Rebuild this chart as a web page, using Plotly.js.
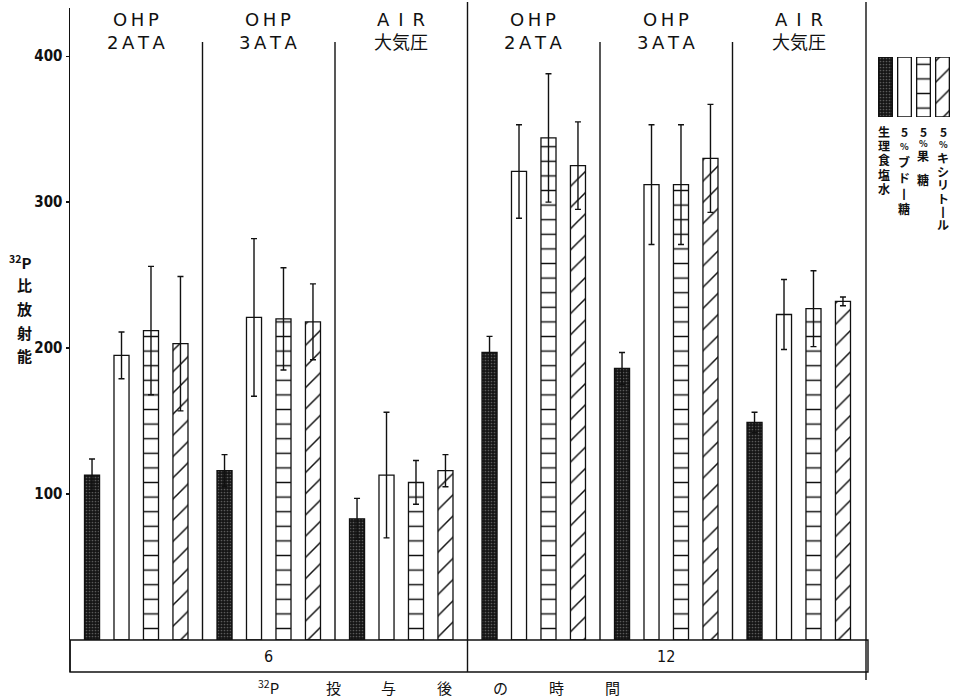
<!DOCTYPE html>
<html>
<head>
<meta charset="utf-8">
<script src="https://cdn.plot.ly/plotly-3.0.1.min.js"></script>
<style>
  html, body { margin: 0; padding: 0; background: #fff; }
  #chart { width: 955px; height: 699px; }
</style>
</head>
<body>
<div id="chart"></div>
<script>
// ---- data: 32P specific activity after administration ----
var groupIndex = [0, 1, 2, 3, 4, 5];
var conditions = ['O\u2009H\u2009P<br>2\u2009A\u2009T\u2009A', 'O\u2009H\u2009P<br>3\u2009A\u2009T\u2009A', 'A\u2002I\u2002R<br>大気圧',
                  'O\u2009H\u2009P<br>2\u2009A\u2009T\u2009A', 'O\u2009H\u2009P<br>3\u2009A\u2009T\u2009A', 'A\u2002I\u2002R<br>大気圧'];
var timeLabels = ['6', '12'];

var saline      = [113, 116, 83, 197, 186, 149];
var salineErr   = [11, 11, 14, 11, 11, 7];
var glucose     = [195, 221, 113, 321, 312, 223];
var glucoseErr  = [16, 54, 43, 32, 41, 24];
var fructose    = [212, 220, 108, 344, 312, 227];
var fructoseErr = [44, 35, 15, 44, 41, 26];
var xylitol     = [203, 218, 116, 325, 330, 232];
var xylitolErr  = [46, 26, 11, 30, 37, 3];

var yTicks = [100, 200, 300, 400];

var seriesNames = ['生理食塩水', '5%ブドー糖', '5%果 糖', '5%キシリトール'];
// vertical legend captions, one glyph per row
var legendCaptions = [
  ['生', '理', '食', '塩', '水'],
  ['5', '%', 'ブ', 'ド', '丨', '糖'],
  ['5', '%', '果', ' ', '糖'],
  ['5', '%', 'キ', 'シ', 'リ', 'ト', '丨', 'ル']
];
var legendSteps = [14.5, 15.5, 12, 13.4];

var yTitle = ['<sup>32</sup>P', '比', '放', '射', '能'];
var xTitle = ['<sup>32</sup>P', '投', '与', '後', 'の', '時', '間'];

// ---- geometry ----
var W = 955, H = 699;
var M = {l: 70, r: 2, t: 8, b: 59};
var plotW = W - M.l - M.r;          // 883
var plotH = H - M.t - M.b;          // 632
var mainW = 795;                     // width of the bar area
function px2x(px) { return (px - M.l) / plotW; }
function px2y(py) { return (H - M.b - py) / plotH; }

var black = '#111';
var styles = [
  {color: '#1b1b1b', pattern: {shape: '.', fgcolor: '#5a5a5a', bgcolor: '#151515', size: 3, solidity: 0.25}},
  {color: '#ffffff', pattern: {shape: ''}},
  {color: '#ffffff', pattern: {shape: '-', fgcolor: black, bgcolor: '#ffffff', size: 14.6, solidity: 0.1}},
  {color: '#ffffff', pattern: {shape: '/', fgcolor: black, bgcolor: '#ffffff', size: 15, solidity: 0.1}}
];
var values = [saline, glucose, fructose, xylitol];
var errors = [salineErr, glucoseErr, fructoseErr, xylitolErr];

var traces = [];
values.forEach(function (v, i) {
  traces.push({
    type: 'bar', x: groupIndex, y: v, name: seriesNames[i],
    marker: {color: styles[i].color, pattern: styles[i].pattern, line: {color: black, width: 1.3}},
    error_y: {type: 'data', array: errors[i], visible: true, color: black, thickness: 1.4, width: 3},
    hoverinfo: 'skip', showlegend: false, xaxis: 'x', yaxis: 'y'
  });
});
// legend swatches drawn as bars on a small side axis
values.forEach(function (v, i) {
  traces.push({
    type: 'bar', x: [i], y: [1], width: 0.72, offset: -0.36,
    marker: {color: styles[i].color, pattern: styles[i].pattern, line: {color: black, width: 1.3}},
    hoverinfo: 'skip', showlegend: false, xaxis: 'x2', yaxis: 'y2'
  });
});

var cjk = 'Noto Sans CJK JP';
function label(x, xref, py, text, font) {
  return {x: x, xref: xref, y: px2y(py), yref: 'paper', text: text, showarrow: false,
          xanchor: 'center', yanchor: 'middle', font: font};
}

var annotations = [];
// condition titles above each group
conditions.forEach(function (c, i) {
  annotations.push(label(groupIndex[i], 'x', 31, c, {family: 'DejaVu Sans, ' + cjk, size: 18, color: black}));
});
// time labels in the bottom band
var bandFont = {family: 'DejaVu Sans Condensed, DejaVu Sans', size: 16, color: black};
annotations.push(label(1, 'x', 656, timeLabels[0], bandFont));
annotations.push(label(4, 'x', 656, timeLabels[1], bandFont));
// x title
var xTitlePos = [268, 333, 388, 444, 500, 556, 612];
xTitle.forEach(function (t, i) {
  annotations.push(label(px2x(xTitlePos[i]), 'paper', 687, t, {family: cjk, size: 15, color: black}));
});
// y title, stacked vertically
var yTitlePos = [262, 284, 308, 332, 355];
yTitle.forEach(function (t, i) {
  annotations.push(label(px2x(i === 0 ? 20 : 24), 'paper', yTitlePos[i], t, {family: cjk, size: 15, color: black, weight: 'bold'}));
});
// legend captions
var legendX = [884, 904, 923, 943];
legendCaptions.forEach(function (chars, i) {
  chars.forEach(function (ch, k) {
    if (ch === ' ') return;
    annotations.push(label(px2x(legendX[i]), 'paper', 131 + k * legendSteps[i], ch,
      {family: cjk, size: (ch === '%' ? 9 : 12), color: black, weight: 'bold'}));
  });
});

var lineStyle = {color: black, width: 1.4};
var shapes = [
  // bottom band with time labels
  {type: 'rect', xref: 'paper', yref: 'paper', x0: 0, x1: px2x(868), y0: px2y(672), y1: 0, line: lineStyle},
  // left axis extension into the band
  {type: 'line', xref: 'paper', yref: 'paper', x0: 0, x1: 0, y0: px2y(672), y1: 0, line: lineStyle},
  // right frame line
  {type: 'line', xref: 'paper', yref: 'paper', x0: px2x(866), x1: px2x(866), y0: px2y(680), y1: px2y(2), line: lineStyle},
  // divider between the two time points
  {type: 'line', xref: 'x', yref: 'paper', x0: 2.5, x1: 2.5, y0: px2y(672), y1: px2y(2), line: lineStyle}
];
[0.5, 1.5, 3.5, 4.5].forEach(function (d) {
  shapes.push({type: 'line', xref: 'x', yref: 'paper', x0: d, x1: d, y0: 0, y1: px2y(42), line: lineStyle});
});

var layout = {
  width: W, height: H,
  margin: M,
  paper_bgcolor: '#fff', plot_bgcolor: 'rgba(0,0,0,0)',
  barmode: 'group', bargap: 0.11, bargroupgap: 0.49,
  showlegend: false,
  xaxis: {domain: [0, mainW / plotW], range: [-0.5, 5.5], showticklabels: false, ticks: '',
          showgrid: false, zeroline: false, showline: false, fixedrange: true},
  yaxis: {range: [0, 433], tickvals: yTicks, ticktext: yTicks.map(String), ticks: 'outside', ticklen: 3,
          tickcolor: black, tickwidth: 1.3, showgrid: false, zeroline: false, showline: true,
          linecolor: black, linewidth: 1.5,
          tickfont: {family: 'DejaVu Sans Condensed, DejaVu Sans', size: 15, color: black, weight: 'bold'}},
  xaxis2: {domain: [px2x(876), px2x(952)], range: [-0.5, 3.5], anchor: 'y2', visible: false, fixedrange: true},
  yaxis2: {domain: [px2y(117), px2y(57)], range: [0, 1], anchor: 'x2', visible: false, fixedrange: true},
  annotations: annotations,
  shapes: shapes
};

Plotly.newPlot('chart', traces, layout, {staticPlot: true, displayModeBar: false});
</script>
</body>
</html>
